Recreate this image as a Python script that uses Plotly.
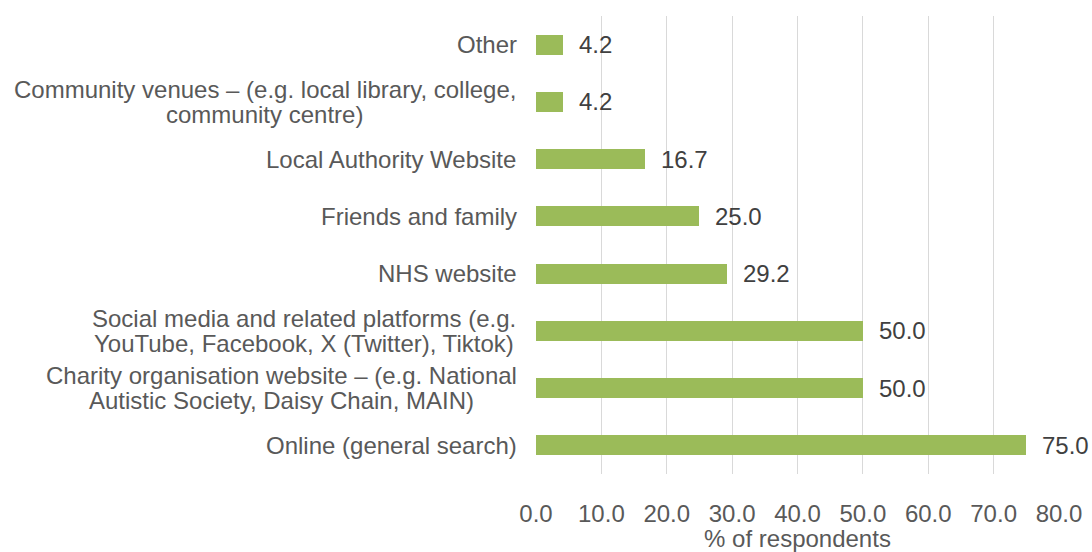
import plotly.graph_objects as go

# Sources of information, listed top to bottom as shown
categories = [
    "Other",
    "Community venues – (e.g. local library, college,<br>community centre)",
    "Local Authority Website",
    "Friends and family",
    "NHS website",
    "Social media and related platforms (e.g.<br>YouTube, Facebook, X (Twitter), Tiktok)",
    "Charity organisation website – (e.g. National<br>Autistic Society, Daisy Chain, MAIN)",
    "Online (general search)",
]
percent = [4.2, 4.2, 16.7, 25.0, 29.2, 50.0, 50.0, 75.0]

x_ticks = [0, 10, 20, 30, 40, 50, 60, 70, 80]
x_tick_labels = [f"{t:.1f}" for t in x_ticks]

BAR = "#9BBB59"
LABEL = "#595959"
VALUE = "#404040"
GRID = "#D9D9D9"
FONT = "Liberation Sans, Arial, sans-serif"
FONT_SIZE = 24
LINE_GAP = 25      # px between lines of a wrapped category label
LABEL_PAD = 19     # px between category labels and the plot area

# Arial / Liberation Sans advance widths (units per 1000 em)
_W = {
    " ": 278, "(": 333, ")": 333, ",": 278, ".": 278, "–": 556, "-": 333,
    "A": 667, "C": 722, "D": 667, "F": 611, "M": 833, "N": 722, "I": 278,
    "S": 667, "T": 611, "X": 667, "Y": 667, "H": 722, "O": 778, "L": 556,
    "W": 944,
    "a": 556, "b": 556, "c": 500, "d": 556, "e": 556, "f": 278, "g": 556,
    "h": 556, "i": 222, "j": 222, "k": 500, "l": 222, "m": 833, "n": 556,
    "o": 556, "p": 556, "q": 556, "r": 333, "s": 500, "t": 278, "u": 556,
    "v": 500, "w": 722, "x": 500, "y": 500, "z": 500,
}


def text_width(s, size=FONT_SIZE):
    return sum(_W.get(ch, 556) for ch in s) * size / 1000.0


fig = go.Figure(
    go.Bar(
        x=percent,
        y=categories,
        orientation="h",
        width=0.35,
        marker=dict(color=BAR, line=dict(width=0)),
        hoverinfo="skip",
    )
)

# value labels just past the end of each bar
for cat, val in zip(categories, percent):
    fig.add_annotation(
        x=val, y=cat, xref="x", yref="y",
        text=f"{val:.1f}", showarrow=False,
        xanchor="left", yanchor="middle", xshift=14,
        font=dict(family=FONT, size=FONT_SIZE, color=VALUE),
    )

# category labels, wrapped lines centred on each other
for cat in categories:
    lines = cat.split("<br>")
    n = len(lines)
    widest = max(text_width(l) for l in lines)
    centre_shift = -(LABEL_PAD + widest / 2.0)
    for i, line in enumerate(lines):
        yshift = ((n - 1) / 2.0 - i) * LINE_GAP
        fig.add_annotation(
            x=0, y=cat, xref="paper", yref="y",
            text=line, showarrow=False,
            xanchor="center", yanchor="middle",
            xshift=centre_shift, yshift=yshift,
            font=dict(family=FONT, size=FONT_SIZE, color=LABEL),
        )

fig.update_layout(
    width=1092, height=552,
    margin=dict(l=536, r=33, t=16, b=78),
    paper_bgcolor="white", plot_bgcolor="white",
    showlegend=False,
    font=dict(family=FONT, size=FONT_SIZE, color=LABEL),
    bargap=0,
)

fig.update_xaxes(
    range=[0, 80],
    tickvals=x_ticks, ticktext=x_tick_labels,
    showgrid=True, gridcolor=GRID, gridwidth=1.3,
    zeroline=False, showline=False, automargin=False,
    ticks="outside", ticklen=18, tickcolor="rgba(0,0,0,0)",
    tickfont=dict(family=FONT, size=FONT_SIZE, color=LABEL),
    title=dict(text="% of respondents", standoff=9,
               font=dict(family=FONT, size=FONT_SIZE, color=LABEL)),
)

fig.update_yaxes(
    autorange="reversed",
    showgrid=False, zeroline=False, showline=False,
    showticklabels=False, automargin=False,
)

fig.write_html("out.html")
